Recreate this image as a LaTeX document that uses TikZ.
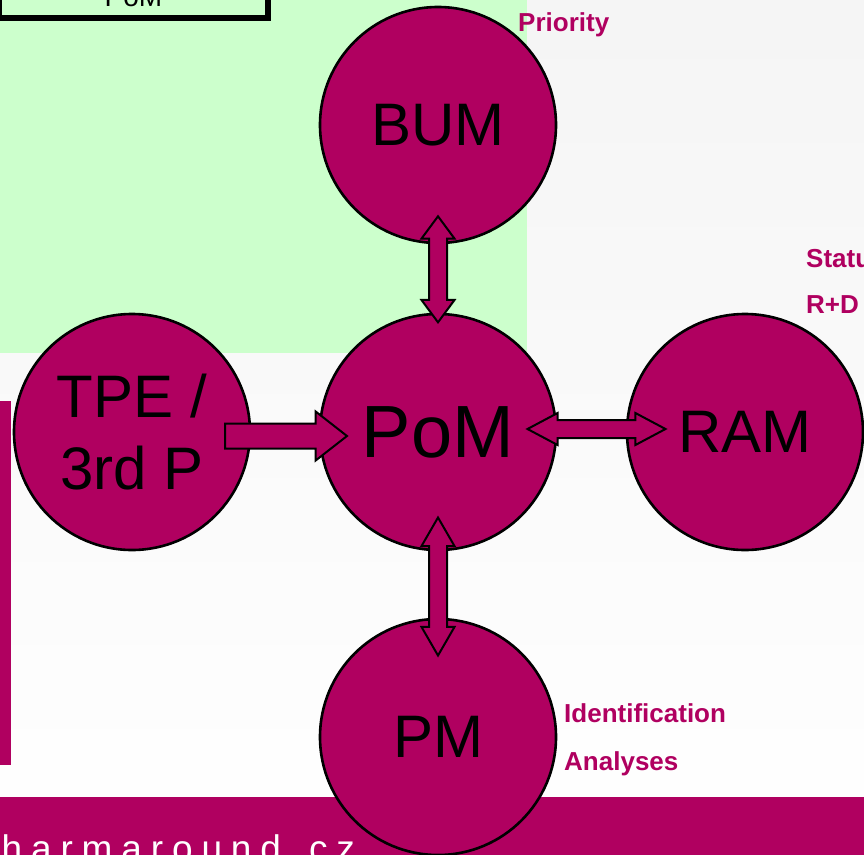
\documentclass[tikz,border=0pt]{standalone}
\usepackage{fontspec}
\setmainfont{Liberation Sans}
\usepackage{xcolor}
\usepackage{tikz}
\usetikzlibrary{calc}
\usetikzlibrary{shapes.arrows}
\definecolor{pmag}{RGB}{176,0,96}
\definecolor{pgreen}{RGB}{204,255,204}
\tikzset{
	bigcirc/.style={circle,draw,line width=2.6pt,fill=pmag,minimum size=236pt,inner sep=0pt,align=center,font=\fontsize{60}{72}\selectfont},
	fatarrow/.style={single arrow,draw,line width=2pt,fill=pmag,inner xsep=0pt},
	dblarrow/.style={double arrow,draw,line width=2pt,fill=pmag,inner xsep=0pt,inner ysep=8pt,minimum width=31pt,double arrow head extend=7.5pt},
	tag/.style={anchor=base west,inner sep=0pt,text=pmag,font=\fontsize{26}{30}\selectfont\bfseries}
}

\begin{document}
\begin{tikzpicture}[x=1pt,y=-1pt]
	\useasboundingbox (0,0) rectangle (864,854);
	\clip (0,0) rectangle (864,854);
	\fill[top color=black!4,bottom color=white] (0,0) rectangle (864,854);
	\fill[pgreen] (0,0) rectangle (527,353);
	\fill[pmag] (0,401) rectangle (11,765);
	\fill[pmag] (0,797) rectangle (864,860);
	\node[draw,line width=6pt,outer sep=0pt,minimum width=269pt,minimum height=41pt,font=\fontsize{28}{32}\selectfont] (pombox) at (133.5,-3) {PoM};
	\node[anchor=base west,inner sep=0pt,text=white,font=\fontsize{37}{40}\selectfont\addfontfeature{LetterSpace=24}] (web) at (-28,861) {pharmaround.cz};

	\node[bigcirc] (bum) at (438,125) {BUM};
	\node[bigcirc,font=\fontsize{74}{80}\selectfont] (pom) at (438,432) {PoM};
	\node[bigcirc] (tpe) at (132,432) {TPE /\\3rd P};
	\node[bigcirc] (ram) at (745,432) {RAM};
	\node[bigcirc] (pm) at (438,737) {PM};

	\node[fatarrow,inner ysep=11.5pt,minimum height=122pt,minimum width=47pt,single arrow head extend=12pt,single arrow tip angle=76] (tpe2pom) at ($(tpe)!0.5!(pom)+(-7,4)$) {};
	\node[dblarrow,rotate=90,minimum height=106pt,double arrow tip angle=73] (bum2pom) at ($(bum)!0.47!(pom)$) {};
	\node[dblarrow,rotate=90,minimum height=138pt,double arrow tip angle=60] (pom2pm) at ($(pom)!0.5!(pm)+(0,2)$) {};
	\node[dblarrow,minimum height=138pt,minimum width=30pt,double arrow head extend=7pt,double arrow tip angle=56] (pom2ram) at ($(pom)!0.5!(ram)+(5,-3)$) {};

	\node[tag] (prio) at (518,31) {Priority};
	\node[tag] (stat) at (806,267) {Status};
	\node[tag] (rd) at (806,313) {R+D};
	\node[tag] (ident) at (564,722) {Identification};
	\node[tag] (anal) at (564,770) {Analyses};
\end{tikzpicture}
\end{document}
